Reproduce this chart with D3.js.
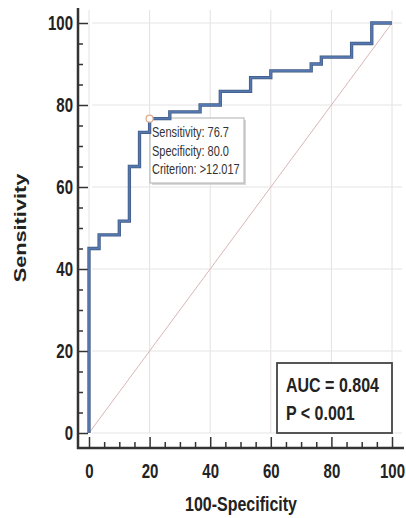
<!DOCTYPE html>
<html lang="en">
  <head>
    <meta charset="utf-8">
    <title>ROC curve</title>
    <script type="text/javascript" src="https://cdn.jsdelivr.net/npm/d3@7"></script>
    <style>
      body { margin: 0; background: #fff; }
      text { font-family: "Liberation Sans", Arial, sans-serif; }
      .tick-label { font-size: 15px; font-weight: bold; fill: #222; }
      .axis-title { font-size: 16px; font-weight: bold; fill: #222; }
      .box-text { font-size: 16px; font-weight: bold; fill: #222; }
      .tip-text { font-size: 11px; fill: #333; }
    </style>
  </head>
  <body>
    <script type="text/javascript">
      // ROC step points (100-Specificity, Sensitivity)
      var rocX = [0, 0, 3.33, 10, 13.33, 16.67, 20, 26.67, 36.67, 43.33, 53.33, 60, 73.33, 76.67, 86.67, 93.33, 100];
      var rocY = [0, 45, 48.33, 51.67, 65, 73.33, 76.67, 78.33, 80, 83.33, 86.67, 88.33, 90, 91.67, 95, 100, 100];
      var majorTicks = [0, 20, 40, 60, 80, 100];
      var minorTicks = [5, 10, 15, 25, 30, 35, 45, 50, 55, 65, 70, 75, 85, 90, 95];
      var cutoff = {x: 20, y: 76.67};
      var tipLines = ["Sensitivity: 76.7", "Specificity: 80.0", "Criterion: >12.017"];
      var statLines = ["AUC = 0.804", "P < 0.001"];

      var w = 406;
      var h = 518;
      var vs = 1.38; // the picture is stretched vertically

      var svg = d3.select("body")
        .append("svg")
        .attr("width", w)
        .attr("height", h);

      var xScale = d3.scaleLinear().domain([0, 100]).range([89, 392]);
      var yScale = d3.scaleLinear().domain([0, 100]).range([433, 23]);

      // grid
      svg.append("g")
        .selectAll("line")
        .data(majorTicks)
        .enter()
        .append("line")
        .attr("x1", function(d) { return xScale(d); })
        .attr("x2", function(d) { return xScale(d); })
        .attr("y1", 10)
        .attr("y2", 433)
        .attr("stroke", "#e6e0e0")
        .attr("stroke-width", 1);

      svg.append("g")
        .selectAll("line")
        .data(majorTicks)
        .enter()
        .append("line")
        .attr("x1", 92)
        .attr("x2", 402)
        .attr("y1", function(d) { return yScale(d); })
        .attr("y2", function(d) { return yScale(d); })
        .attr("stroke", "#e6e4e4")
        .attr("stroke-width", 1);

      // diagonal
      svg.append("line")
        .attr("x1", xScale(0))
        .attr("y1", yScale(0))
        .attr("x2", xScale(100))
        .attr("y2", yScale(100))
        .attr("stroke", "#d8b6b6")
        .attr("stroke-width", 1);

      // axes
      var axisX = 78, axisY = 448;

      var yAxis = d3.axisLeft(yScale)
        .tickValues(majorTicks)
        .tickSizeInner(-10)
        .tickSizeOuter(0)
        .tickPadding(5);
      var yMinor = d3.axisLeft(yScale)
        .tickValues(minorTicks)
        .tickSizeInner(-5)
        .tickSizeOuter(0)
        .tickFormat("");
      var xAxis = d3.axisBottom(xScale)
        .tickValues(majorTicks)
        .tickSizeInner(-11)
        .tickSizeOuter(0)
        .tickPadding(11);
      var xMinor = d3.axisBottom(xScale)
        .tickValues(minorTicks)
        .tickSizeInner(-6)
        .tickSizeOuter(0)
        .tickFormat("");

      [[yAxis, "translate(" + axisX + ",0)"], [yMinor, "translate(" + axisX + ",0)"],
       [xAxis, "translate(0," + axisY + ")"], [xMinor, "translate(0," + axisY + ")"]].forEach(function(a) {
        var g = svg.append("g")
          .attr("transform", a[1])
          .call(a[0]);
        g.select(".domain").remove();
        g.selectAll(".tick line")
          .attr("stroke", "#333")
          .attr("stroke-width", 1.5);
        g.selectAll(".tick text")
          .attr("class", "tick-label")
          .attr("transform", "scale(1," + vs + ")");
      });

      svg.append("line")
        .attr("x1", axisX).attr("x2", axisX)
        .attr("y1", 8).attr("y2", axisY + 1)
        .attr("stroke", "#333")
        .attr("stroke-width", 2.5);
      svg.append("line")
        .attr("x1", axisX - 1).attr("x2", 404)
        .attr("y1", axisY).attr("y2", axisY)
        .attr("stroke", "#333")
        .attr("stroke-width", 2.5);

      // axis titles
      svg.append("text")
        .attr("class", "axis-title")
        .attr("text-anchor", "middle")
        .attr("transform", "translate(26,228) rotate(-90) scale(1.36,1)")
        .text("Sensitivity");
      svg.append("text")
        .attr("class", "axis-title")
        .attr("text-anchor", "middle")
        .attr("transform", "translate(241,511) scale(1,1.22)")
        .text("100-Specificity");

      // criterion tooltip
      svg.append("rect")
        .attr("x", 152).attr("y", 120)
        .attr("width", 94).attr("height", 65)
        .attr("fill", "#d8d8d8");
      svg.append("rect")
        .attr("x", 150).attr("y", 118)
        .attr("width", 94).attr("height", 65)
        .attr("fill", "#fff")
        .attr("stroke", "#b0b0b0")
        .attr("stroke-width", 1);
      svg.append("g")
        .selectAll("text")
        .data(tipLines)
        .enter()
        .append("text")
        .attr("class", "tip-text")
        .attr("transform", function(d, i) { return "translate(152," + (137 + i * 18.5) + ") scale(1,1.25)"; })
        .text(function(d) { return d; });

      // ROC curve
      var pts = rocX.map(function(d, i) { return [d, rocY[i]]; });
      var line = d3.line()
        .x(function(d) { return xScale(d[0]); })
        .y(function(d) { return yScale(d[1]); })
        .curve(d3.curveStepAfter);
      svg.append("path")
        .datum(pts)
        .attr("d", line)
        .attr("fill", "none")
        .attr("stroke", "#415a80")
        .attr("stroke-width", 3.3);
      svg.append("path")
        .datum(pts)
        .attr("d", line)
        .attr("fill", "none")
        .attr("stroke", "#5479b2")
        .attr("stroke-width", 1.8);

      svg.append("circle")
        .attr("cx", xScale(cutoff.x))
        .attr("cy", yScale(cutoff.y))
        .attr("r", 3.5)
        .attr("fill", "#fff")
        .attr("stroke", "#e2a98a")
        .attr("stroke-width", 1.2);

      // AUC box
      svg.append("rect")
        .attr("x", 277).attr("y", 363)
        .attr("width", 115).attr("height", 70)
        .attr("fill", "#fff")
        .attr("stroke", "#444")
        .attr("stroke-width", 1.8);
      svg.append("g")
        .selectAll("text")
        .data(statLines)
        .enter()
        .append("text")
        .attr("class", "box-text")
        .attr("transform", function(d, i) { return "translate(286," + (392 + i * 28) + ") scale(1,1.25)"; })
        .text(function(d) { return d; });
    </script>
  </body>
</html>
